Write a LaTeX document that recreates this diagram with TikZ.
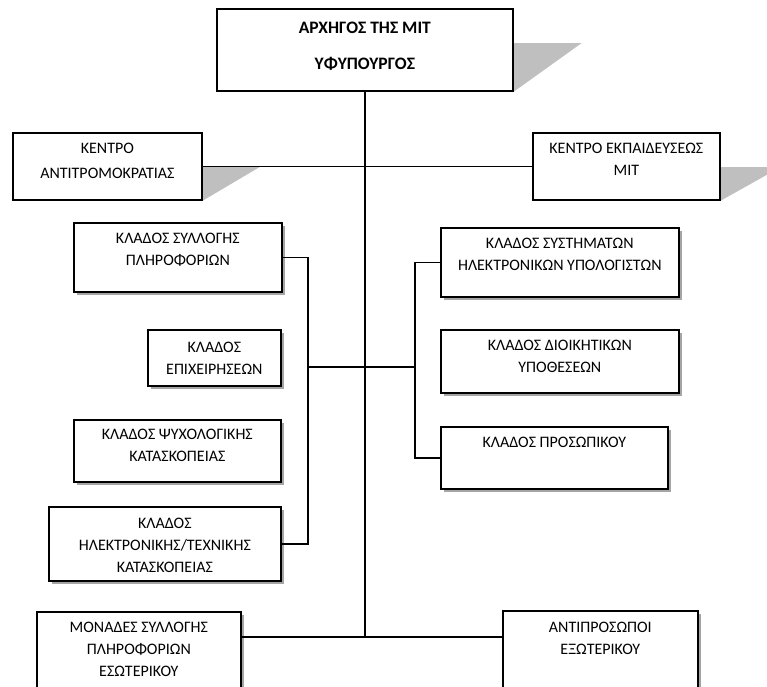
\documentclass[tikz,border=0pt]{standalone}
\usepackage{fontspec}
\setmainfont{Carlito}
\usetikzlibrary{shadows,backgrounds}

% box text: width, height, lines (first baseline given as option)
\newcommand{\unittext}[4][21pt]{\parbox[c][#3][t]{#2}{\centering\baselineskip=22pt\rule{0pt}{#1}#4}}

\begin{document}
\begin{tikzpicture}[x=1pt, y=-1pt,
    unit/.style={draw, line width=1.7pt, fill=white, anchor=north west, inner sep=0pt},
    branch/.style={unit, drop shadow={shadow xshift=3pt, shadow yshift=-3pt, fill=gray, opacity=0.7}},
    link/.style={line width=1.4pt}]
            \fontsize{16}{22}\selectfont
            \clip (0,0) rectangle (767,686);
            \node[unit] (chief) at (216,8) {\parbox[c][82pt][t]{296pt}{\centering\fontsize{17.5}{36}\selectfont\rule{0pt}{25pt}\textbf{ΑΡΧΗΓΟΣ ΤΗΣ ΜΙΤ}\\\textbf{ΥΦΥΠΟΥΡΓΟΣ}}};
            \node[unit] (ctr) at (12,132) {\parbox[c][67pt][t]{189pt}{\centering\baselineskip=25pt\rule{0pt}{21pt}ΚΕΝΤΡΟ\\ΑΝΤΙΤΡΟΜΟΚΡΑΤΙΑΣ}};
            \node[unit] (edu) at (532,132) {\unittext{187pt}{67pt}{ΚΕΝΤΡΟ ΕΚΠΑΙΔΕΥΣΕΩΣ\\ΜΙΤ}};
            % left branches
            \node[branch] (coll) at (73,222) {\unittext{208pt}{69pt}{ΚΛΑΔΟΣ ΣΥΛΛΟΓΗΣ\\ΠΛΗΡΟΦΟΡΙΩΝ}};
            \node[branch] (ops) at (147,329) {\unittext[23pt]{133pt}{56pt}{ΚΛΑΔΟΣ\\ΕΠΙΧΕΙΡΗΣΕΩΝ}};
            \node[branch] (psy) at (73,419) {\unittext[20pt]{207pt}{62pt}{ΚΛΑΔΟΣ ΨΥΧΟΛΟΓΙΚΗΣ\\ΚΑΤΑΣΚΟΠΕΙΑΣ}};
            \node[branch] (etech) at (48,506) {\unittext[22pt]{232pt}{74pt}{ΚΛΑΔΟΣ\\ΗΛΕΚΤΡΟΝΙΚΗΣ/ΤΕΧΝΙΚΗΣ\\ΚΑΤΑΣΚΟΠΕΙΑΣ}};
            \node[branch] (dom) at (36,611) {\unittext{204pt}{110pt}{ΜΟΝΑΔΕΣ ΣΥΛΛΟΓΗΣ\\ΠΛΗΡΟΦΟΡΙΩΝ\\ΕΣΩΤΕΡΙΚΟΥ}};
            % right branches
            \node[branch] (sys) at (440,227) {\unittext{238pt}{69pt}{ΚΛΑΔΟΣ ΣΥΣΤΗΜΑΤΩΝ\\ΗΛΕΚΤΡΟΝΙΚΩΝ ΥΠΟΛΟΓΙΣΤΩΝ}};
            \node[branch] (adm) at (440,329) {\unittext{238pt}{63pt}{ΚΛΑΔΟΣ ΔΙΟΙΚΗΤΙΚΩΝ\\ΥΠΟΘΕΣΕΩΝ}};
            \node[branch] (pers) at (440,426) {\unittext{227pt}{62pt}{ΚΛΑΔΟΣ ΠΡΟΣΩΠΙΚΟΥ}};
            \node[branch] (rep) at (502,610) {\unittext[22pt]{195pt}{110pt}{ΑΝΤΙΠΡΟΣΩΠΟΙ\\ΕΞΩΤΕΡΙΚΟΥ}};

            \begin{scope}[on background layer]
            \fill[white] (0,0) rectangle (767,686);
            \fill[gray!50] ([yshift=-35pt]chief.north east) -- ++(68,0) -- (chief.south east) -- cycle;
            \fill[gray!50] ([yshift=-35pt]ctr.north east) -- ++(57,0) -- (ctr.south east) -- cycle;
            \fill[gray!50] ([yshift=-35pt]edu.north east) -- ++(60,0) -- (edu.south east) -- cycle;
            \end{scope}

            \coordinate (bot) at (366,637);
            \coordinate (lb) at (308,367);
            \coordinate (rb) at (415,367);
            \draw[link] (chief.south) -- (chief.south |- bot);
            \draw[link] (ctr.east) -- (edu.west);
            \draw[link] (coll.east) -| (lb) |- (etech.east);
            \draw[link] (lb) -- (rb);
            \draw[link] (sys.west) -| (rb) |- (pers.west);
            \draw[link] (dom.east |- bot) -- (rep.west |- bot);
\end{tikzpicture}
\end{document}
